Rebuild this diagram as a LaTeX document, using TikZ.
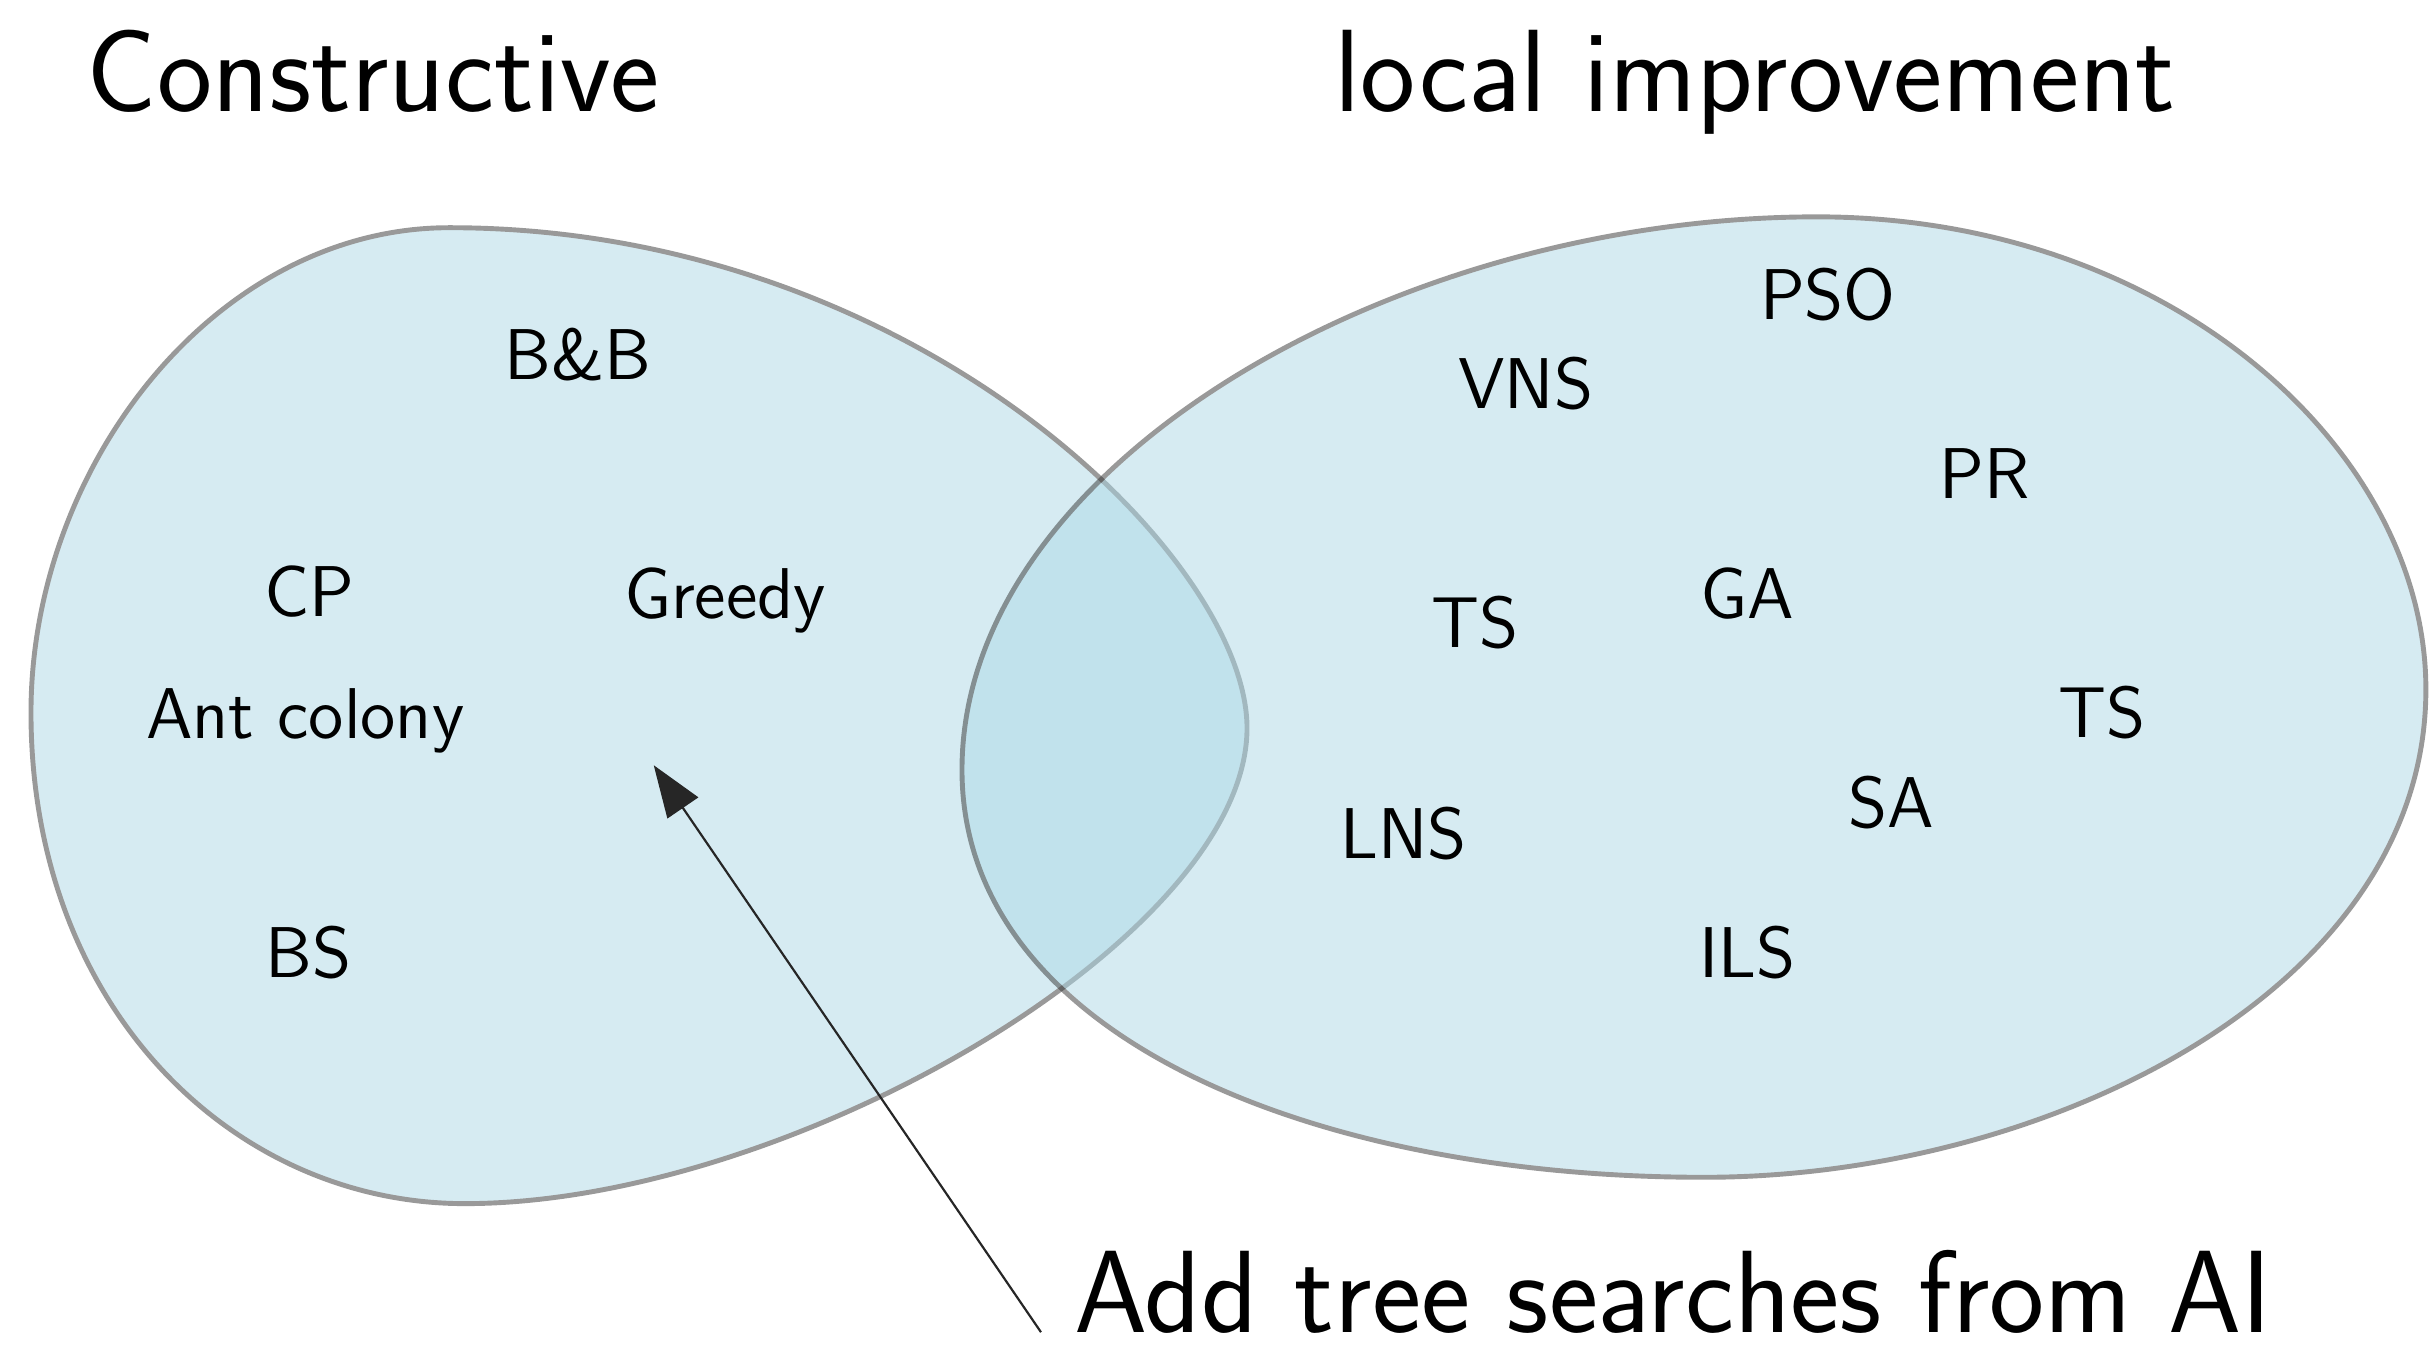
\documentclass[tikz,border=0pt]{standalone}
\usetikzlibrary{arrows.meta}
\begin{document}
\begin{tikzpicture}[x=0.01cm,y=-0.01cm,
  setshape/.style={fill=lightblue, draw=black!80, line width=0.9pt},
  setgroup/.style={transparency group, opacity=0.5},
  lbl/.style={font=\sffamily\fontsize{13.2}{16}\selectfont, anchor=base},
  ttl/.style={font=\sffamily\fontsize{21.5}{26}\selectfont, anchor=base},
  pointer/.style={draw=black!85, line width=0.4pt, -{Triangle[length=9.5pt,width=6.8pt]}}]
\definecolor{lightblue}{RGB}{173,216,230}
\useasboundingbox (0,0) rectangle (1568,871);
% left set (constructive)
\begin{scope}[setgroup]
\path[setshape] (805,470) .. controls (805,360) and (590,147) .. (290,147)
  .. controls (140,147) and (20,300) .. (20,460)
  .. controls (20,650) and (150,777) .. (300,777)
  .. controls (510,777) and (805,605) .. (805,470) -- cycle;
\end{scope}
% right set (local improvement)
\begin{scope}[setgroup]
\path[setshape] (621,497) .. controls (621,300) and (900,140) .. (1173,140)
  .. controls (1400,140) and (1566,290) .. (1566,445)
  .. controls (1566,640) and (1320,760) .. (1100,760)
  .. controls (850,760) and (621,670) .. (621,497) -- cycle;
\end{scope}
% titles
\node[ttl] (constr) at (241,72) {Constructive};
\node[ttl] (local) at (1133,72) {local improvement};
% left labels
\node[lbl] (bb) at (373,245) {B\&B};
\node[lbl] (cp) at (200,398) {CP};
\node[lbl] (greedy) at (468,399) {Greedy};
\node[lbl] (ant) at (197,477) {Ant colony};
\node[lbl] (bs) at (199,631) {BS};
% right labels
\node[lbl] (pso) at (1180,206) {PSO};
\node[lbl] (vns) at (985,264) {VNS};
\node[lbl] (pr) at (1281,322) {PR};
\node[lbl] (ga) at (1128,399) {GA};
\node[lbl] (tsa) at (952,418) {TS};
\node[lbl] (tsb) at (1357,476) {TS};
\node[lbl] (sa) at (1221,534) {SA};
\node[lbl] (lns) at (906,554) {LNS};
\node[lbl] (ils) at (1128,631) {ILS};
% bottom note and arrow
\node[ttl, anchor=base west, inner xsep=6pt] (add) at (672,860) {Add tree searches from AI};
\coordinate (tip) at (422,494);
\draw[pointer] (add.base west) -- (tip);
\end{tikzpicture}
\end{document}
